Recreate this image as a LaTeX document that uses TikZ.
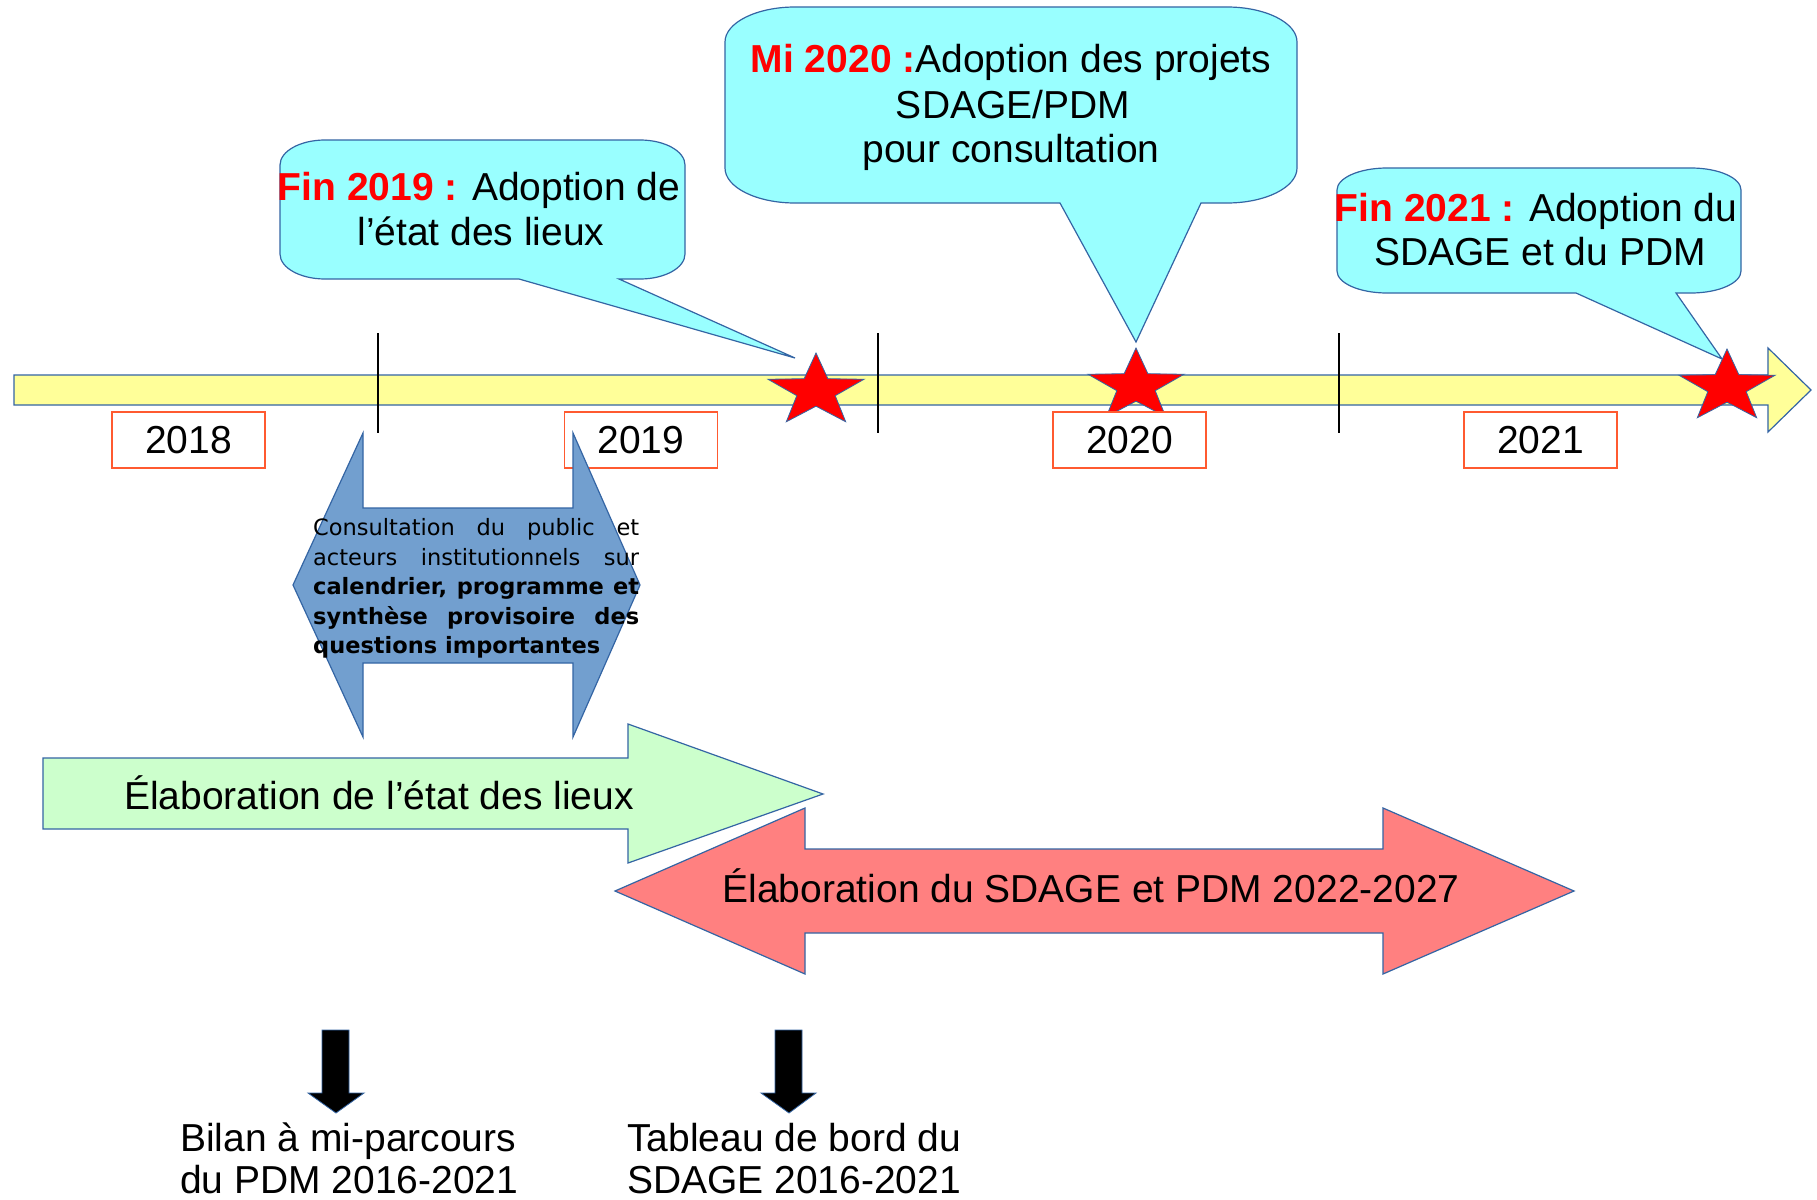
\documentclass[tikz,border=0pt]{standalone}
\usepackage{fontspec}
\setmainfont{Liberation Sans}
\newfontfamily\dejavu{DejaVu Sans}
\definecolor{loblue}{HTML}{3465A4}
\definecolor{callcyan}{HTML}{99FFFF}
\definecolor{baryellow}{HTML}{FFFF99}
\definecolor{lightgreen}{HTML}{CCFFCC}
\definecolor{salmon}{HTML}{FF8080}
\definecolor{midblue}{HTML}{729FCF}
\definecolor{yearred}{HTML}{FF5A30}
\definecolor{tlred}{HTML}{FF0000}
\newcommand{\mainfs}{\fontsize{39}{45}\selectfont}
\newcommand{\smallfs}{\dejavu\fontsize{22.5}{29.5}\selectfont}
\newcommand{\tlstar}[3]{%
  \begin{scope}[shift={(#1,#2)},xscale=50.5,yscale=-38]
    \path[starsty] (0,1) -- (-0.2351,0.3236) -- (-0.9511,0.3090) -- (-0.3804,-0.1236)
      -- (-0.5878,-0.8090) -- (0,-0.4) -- (0.5878,-0.8090) -- (0.3804,-0.1236)
      -- (0.9511,0.3090) -- (0.2351,0.3236) -- cycle;
    \coordinate (#3) at (0,0);
  \end{scope}}
\tikzset{
  outl/.style={draw=loblue, line width=1.2pt, line join=miter},
  callout/.style={outl, fill=callcyan},
  starsty/.style={fill=tlred, draw=loblue, line width=0.8pt},
  yearbox/.style={draw=yearred, line width=1.3pt, fill=white, minimum width=153pt,
    minimum height=56pt, inner sep=0pt, font=\mainfs},
  txt/.style={font=\mainfs, inner sep=0pt, anchor=base},
  txtl/.style={font=\mainfs, inner sep=0pt, anchor=base west},
  smalltxt/.style={font=\smallfs, inner sep=0pt, anchor=base west},
  tick/.style={draw=black, line width=1.4pt},
}
\begin{document}
\begin{tikzpicture}[x=1pt,y=-1pt]
\useasboundingbox (0,0) rectangle (1817,1199);
\fill[white] (0,0) rectangle (1817,1199);

% timeline bar
\path[outl, fill=baryellow] (14,375) -- (1768,375) -- (1768,348) -- (1811,390)
  -- (1768,432) -- (1768,405) -- (14,405) -- cycle;
\draw[tick] (378,333) -- (378,433);
\draw[tick] (878,333) -- (878,433);
\draw[tick] (1339,333) -- (1339,433);

% callout Fin 2019
\path[callout] (325,140) -- (640,140) .. controls (664.8,140) and (685,151.2) .. (685,165)
  -- (685,254) .. controls (685,267.8) and (664.8,279) .. (640,279) -- (619,279)
  -- (795,358) -- (519,279) -- (325,279) .. controls (300.2,279) and (280,267.8) .. (280,254)
  -- (280,165) .. controls (280,151.2) and (300.2,140) .. (325,140) -- cycle;
\node[txt] (c1a) at (479,200) {\textcolor{tlred}{\bfseries Fin 2019 :} Adoption de};
\node[txt] (c1b) at (481,245) {l’état des lieux};

% callout Mi 2020
\path[callout] (795,7) -- (1227,7) .. controls (1265.6,7) and (1297,22.7) .. (1297,42)
  -- (1297,168) .. controls (1297,187.3) and (1265.6,203) .. (1227,203) -- (1201,203)
  -- (1136,342) -- (1060,203) -- (795,203) .. controls (756.4,203) and (725,187.3) .. (725,168)
  -- (725,42) .. controls (725,22.7) and (756.4,7) .. (795,7) -- cycle;
\node[txt] (c2a) at (1011,73) {\textcolor{tlred}{\bfseries Mi 2020 :}Adoption des projets};
\node[txt] (c2b) at (1013,118) {SDAGE/PDM};
\node[txt] (c2c) at (1011,162) {pour consultation};

% callout Fin 2021
\path[callout] (1387,168) -- (1691,168) .. controls (1718.6,168) and (1741,177.9) .. (1741,190)
  -- (1741,271) .. controls (1741,283.1) and (1718.6,293) .. (1691,293) -- (1676,293)
  -- (1722,359) -- (1576,293) -- (1387,293) .. controls (1359.4,293) and (1337,283.1) .. (1337,271)
  -- (1337,190) .. controls (1337,177.9) and (1359.4,168) .. (1387,168) -- cycle;
\node[txt] (c3a) at (1536,221) {\textcolor{tlred}{\bfseries Fin 2021 :} Adoption du};
\node[txt] (c3b) at (1540,265) {SDAGE et du PDM};

% stars
\tlstar{816}{391}{s1}
\tlstar{1136}{386}{s2}
\tlstar{1727}{387}{s3}

% year boxes
\node[yearbox] (y2018) at (188.5,440) {2018};
\node[yearbox] (y2019) at (641,440) {2019};
\node[yearbox] (y2020) at (1129.5,440) {2020};
\node[yearbox] (y2021) at (1540.5,440) {2021};

% consultation double arrow
\path[outl, fill=midblue] (293,585) -- (363,433) -- (363,508) -- (573,508) -- (573,433)
  -- (640,585) -- (573,737) -- (573,663) -- (363,663) -- (363,737) -- cycle;
\node[smalltxt] (k1) at (313,535) {\makebox[326pt][s]{Consultation du public et}};
\node[smalltxt] (k2) at (313,565) {\makebox[326pt][s]{acteurs institutionnels sur}};
\node[smalltxt] (k3) at (313,594) {\makebox[326pt][s]{\bfseries calendrier, programme et}};
\node[smalltxt] (k4) at (313,624) {\makebox[326pt][s]{\bfseries synthèse provisoire des}};
\node[smalltxt] (k5) at (313,653) {\makebox[326pt][l]{\bfseries questions importantes}};

% green arrow
\path[outl, fill=lightgreen] (43,758) -- (628,758) -- (628,724) -- (823,794) -- (628,863)
  -- (628,829) -- (43,829) -- cycle;
\node[txtl] (g1) at (124,809) {Élaboration de l’état des lieux};

% red double arrow
\path[outl, fill=salmon] (615,891) -- (805,808) -- (805,849) -- (1383,849) -- (1383,808)
  -- (1574,891) -- (1383,974) -- (1383,933) -- (805,933) -- (805,974) -- cycle;
\node[txt] (r1) at (1091,902) {Élaboration du SDAGE et PDM 2022-2027};

% black down arrows
\path[draw=loblue, line width=0.8pt, fill=black] (322,1030) -- (349,1030) -- (349,1093) -- (364,1093)
  -- (336,1113) -- (308,1093) -- (322,1093) -- cycle;
\path[draw=loblue, line width=0.8pt, fill=black] (775,1030) -- (802,1030) -- (802,1093) -- (816,1093)
  -- (789,1113) -- (761,1093) -- (775,1093) -- cycle;

\node[txtl] (b1) at (180,1151) {Bilan à mi-parcours};
\node[txtl] (b2) at (180,1193) {du PDM 2016-2021};
\node[txtl] (t1) at (627,1151) {Tableau de bord du};
\node[txtl] (t2) at (627,1193) {SDAGE 2016-2021};
\end{tikzpicture}
\end{document}
